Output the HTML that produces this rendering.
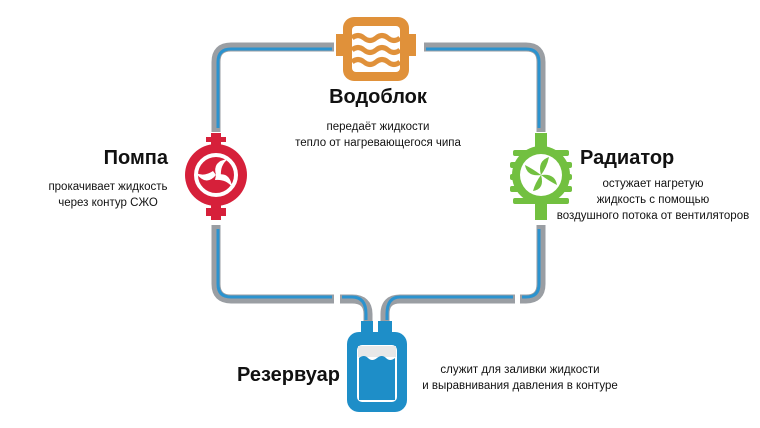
<!DOCTYPE html>
<html><head><meta charset="utf-8"><style>
body{margin:0;background:#fff;width:760px;height:428px;overflow:hidden}
svg{display:block}
text{font-family:"Liberation Sans",sans-serif;fill:#111}
.t{font-weight:bold;font-size:20px}
.b{font-size:11.5px}
</style></head><body>
<svg width="760" height="428" viewBox="0 0 760 428">
<g fill="none" stroke-linecap="butt">
<g stroke="#9a9ea3" stroke-width="9">
<path d="M216 132 V62 Q216 47 231 47 H334"/>
<path d="M424 47 H526 Q541 47 541 62 V132"/>
<path d="M216 225 V284 Q216 299 231 299 H334"/>
<path d="M340 299 H352 Q368 299 368 314 V322"/>
<path d="M541 225 V284 Q541 299 526 299 H520"/>
<path d="M515 299 H400 Q385 299 385 314 V322"/>
</g>
<g stroke="#2b93cf" stroke-width="3">
<path d="M218 128 V62 Q218 49 231 49 H332"/>
<path d="M426 49 H526 Q539 49 539 62 V128"/>
<path d="M218 229 V284 Q218 297 231 297 H332"/>
<path d="M342 297 H352 Q366 297 366 314 V320"/>
<path d="M539 229 V284 Q539 297 526 297 H522"/>
<path d="M513 297 H400 Q387 297 387 314 V320"/>
</g>
</g>
<!-- waterblock -->
<rect x="336" y="34" width="8" height="22" fill="#e0913a"/>
<rect x="408" y="34" width="8" height="22" fill="#e0913a"/>
<rect x="343" y="17" width="66" height="64" rx="11" fill="#e0913a"/>
<rect x="352" y="26" width="48" height="46" rx="4" fill="#fff"/>
<g stroke="#e0913a" stroke-width="5" fill="none">
<path d="M352 38 q6 -5 12 0 t12 0 t12 0 t12 0"/>
<path d="M352 50 q6 -5 12 0 t12 0 t12 0 t12 0"/>
<path d="M352 62 q6 -5 12 0 t12 0 t12 0 t12 0"/>
</g>
<!-- pump -->
<g fill="#d6203a">
<rect x="211" y="133" width="10" height="16"/><rect x="206" y="137" width="20" height="5"/>
<rect x="211" y="200" width="10" height="20"/><rect x="206" y="208" width="20" height="8"/>
<circle cx="216" cy="175" r="31"/>
</g>
<circle cx="216" cy="175" r="20" fill="none" stroke="#fff" stroke-width="4"/>
<g fill="#fff">
<path d="M216 175 q-4 -14 12 -16 q-8 6 -7 17z"/>
<path d="M216 175 q14 -4 16 12 q-6 -8 -17 -7z"/>
<path d="M216 175 q-10 12 -20 -2 q8 4 17 -2z"/>
</g>
<!-- radiator -->
<g fill="#72c040">
<rect x="535" y="133" width="12" height="16"/>
<rect x="535" y="200" width="12" height="20"/>
<rect x="513" y="150" width="56" height="6" rx="2"/>
<rect x="510" y="162" width="62" height="6" rx="2"/>
<rect x="510" y="174" width="62" height="6" rx="2"/>
<rect x="510" y="186" width="62" height="6" rx="2"/>
<rect x="513" y="198" width="56" height="6" rx="2"/>
<circle cx="541" cy="175" r="29"/>
</g>
<circle cx="541" cy="175" r="21" fill="#fff"/>
<g fill="#72c040">
<path d="M541 175 q-4 -14 8 -18 q-2 10 -8 18z"/>
<path d="M541 175 q14 -2 16 10 q-8 -4 -16 -10z"/>
<path d="M541 175 q4 14 -8 16 q2 -8 8 -16z"/>
<path d="M541 175 q-14 2 -16 -10 q8 4 16 10z"/>
</g>
<!-- reservoir -->
<g fill="#1e8ec8">
<rect x="361" y="321" width="12" height="14"/>
<rect x="378" y="321" width="14" height="14"/>
<rect x="347" y="332" width="60" height="80" rx="12"/>
</g>
<rect x="357" y="345" width="40" height="57" rx="5" fill="#fff"/>
<rect x="358" y="346" width="38" height="11" fill="#e8e8e8"/>
<path d="M359 358 q5 -4 9 0 t9 0 t9 0 t9 0 V400 H359z" fill="#1e8ec8"/>
<!-- text -->
<text class="t" x="378" y="103" text-anchor="middle">Водоблок</text>
<text class="b" x="378" y="130" text-anchor="middle">передаёт жидкости</text>
<text class="b" x="378" y="146" text-anchor="middle">тепло от нагревающегося чипа</text>
<text class="t" x="168" y="164" text-anchor="end">Помпа</text>
<text class="b" x="108" y="190" text-anchor="middle">прокачивает жидкость</text>
<text class="b" x="108" y="206" text-anchor="middle">через контур СЖО</text>
<text class="t" x="580" y="164">Радиатор</text>
<text class="b" x="653" y="187" text-anchor="middle">остужает нагретую</text>
<text class="b" x="653" y="203" text-anchor="middle">жидкость с помощью</text>
<text class="b" x="653" y="219" text-anchor="middle">воздушного потока от вентиляторов</text>
<text class="t" x="340" y="381" text-anchor="end">Резервуар</text>
<text class="b" x="520" y="373" text-anchor="middle">служит для заливки жидкости</text>
<text class="b" x="520" y="389" text-anchor="middle">и выравнивания давления в контуре</text>
</svg>
</body></html>
